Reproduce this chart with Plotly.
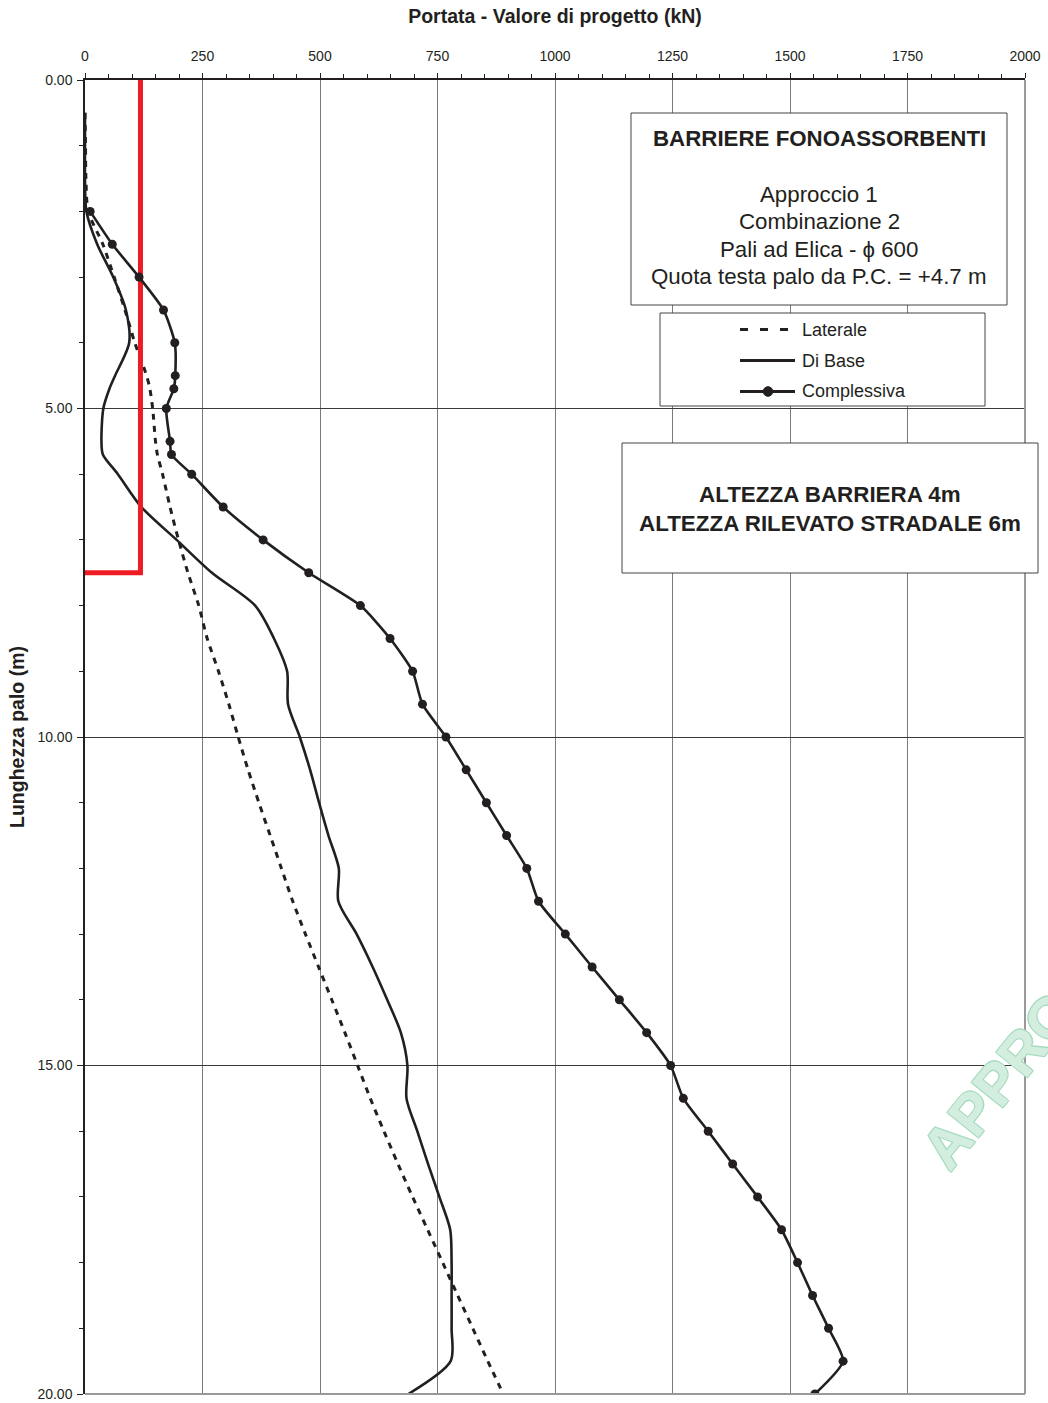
import plotly.graph_objects as go

# Depths along the pile (m) at which laterale and base capacities are tabulated
depth = [0.5, 1.0, 1.5, 2.0, 2.5, 3.0, 3.5, 4.0, 4.5, 4.7, 5.0, 5.5, 5.7,
         6.0, 6.5, 7.0, 7.5, 8.0, 8.5, 9.0, 9.5, 10.0, 10.5, 11.0, 11.5,
         12.0, 12.5, 13.0, 13.5, 14.0, 14.5, 15.0, 15.5, 16.0, 16.5, 17.0,
         17.5, 18.0, 18.5, 19.0, 19.5, 20.0]

# Shaft (lateral) design capacity, kN
laterale = [0, 1, 2, 7, 38, 62, 85, 106, 131, 138, 144, 150, 154,
            165, 181, 199, 219, 242, 260, 284, 306, 326, 347, 370, 394,
            418, 442, 469, 497, 525, 553, 580, 607, 636, 666, 697,
            729, 761, 793, 825, 857, 890]

# Base design capacity, kN
di_base = [0, 0, 0, 3, 26, 60, 87, 94, 64, 52, 39, 35, 38,
           70, 120, 195, 270, 362, 402, 430, 432, 457, 479, 498, 518,
           540, 539, 578, 612, 643, 672, 686, 684, 707, 730, 754,
           777, 780, 780, 780, 778, 688]

# Total design capacity, kN (tabulated from 2.0 m)
depth_tot = depth[3:]
complessiva = [11, 58, 115, 167, 191, 192, 189, 173, 181, 184,
               227, 294, 379, 476, 586, 649, 697, 718, 768, 811, 854,
               897, 940, 965, 1022, 1079, 1137, 1195, 1246, 1273, 1326,
               1378, 1431, 1482, 1516, 1548, 1582, 1613, 1553]

# Design load demand line (kN) down to its depth (m)
carico_x = [118, 118, 0]
carico_y = [0, 7.5, 7.5]

# Axis ticks
x_ticks = [0, 250, 500, 750, 1000, 1250, 1500, 1750, 2000]
y_ticks = [0, 5, 10, 15, 20]

# Text of the two boxes
info_lines = ["<b>BARRIERE FONOASSORBENTI</b>", "Approccio 1", "Combinazione 2",
              "Pali ad Elica - \u03d5 600", "Quota testa palo da P.C. = +4.7 m"]
geo_lines = ["<b>ALTEZZA BARRIERA 4m</b>", "<b>ALTEZZA RILEVATO STRADALE 6m</b>"]

INK = "#231f20"
FRAME = "#444444"
FONT = "Arial, Liberation Sans, sans-serif"

# Plot-area geometry in pixels (used to place boxes in paper coordinates)
W, H = 1048, 1403
L, R, T, B = 85, 1025, 80, 1394


def px(xp):
    return (xp - L) / (R - L)


def py(yp):
    return (B - yp) / (B - T)


fig = go.Figure()

fig.add_trace(go.Scatter(
    x=laterale, y=depth, mode="lines", name="Laterale",
    line=dict(color=INK, width=3, dash="6px,6px", shape="spline", smoothing=0.8),
))
fig.add_trace(go.Scatter(
    x=di_base, y=depth, mode="lines", name="Di Base",
    line=dict(color=INK, width=2.6, shape="spline", smoothing=0.8),
))
fig.add_trace(go.Scatter(
    x=carico_x, y=carico_y, mode="lines", name="Carico",
    line=dict(color="#ed1c24", width=5),
))
fig.add_trace(go.Scatter(
    x=complessiva, y=depth_tot, mode="lines+markers", name="Complessiva",
    line=dict(color=INK, width=2.6, shape="spline", smoothing=0.6),
    marker=dict(symbol="circle", size=9, color=INK),
))

shapes = [
    # right and bottom frame of the plot area
    dict(type="line", xref="paper", yref="paper", x0=1, x1=1, y0=0, y1=1,
         line=dict(color="#9a9a9a", width=2), layer="above"),
    dict(type="line", xref="paper", yref="paper", x0=0, x1=1, y0=0, y1=0,
         line=dict(color="#9a9a9a", width=2), layer="above"),
    # information box
    dict(type="rect", xref="paper", yref="paper",
         x0=px(631), x1=px(1007), y0=py(305), y1=py(113),
         line=dict(color=FRAME, width=1), fillcolor="white", layer="above"),
    # geometry box
    dict(type="rect", xref="paper", yref="paper",
         x0=px(622), x1=px(1038), y0=py(573), y1=py(443),
         line=dict(color=FRAME, width=1), fillcolor="white", layer="above"),
    # legend frame
    dict(type="rect", xref="paper", yref="paper",
         x0=px(660), x1=px(985), y0=py(406), y1=py(313),
         line=dict(color=FRAME, width=1), fillcolor="white", layer="above"),
]

# legend samples
leg_rows = [("Laterale", 329.5), ("Di Base", 360.5), ("Complessiva", 391.5)]
for name, yy in leg_rows:
    dash = "8px,12px" if name == "Laterale" else "solid"
    shapes.append(dict(type="line", xref="paper", yref="paper",
                       x0=px(740), x1=px(795), y0=py(yy), y1=py(yy),
                       line=dict(color=INK, width=3, dash=dash), layer="above"))
shapes.append(dict(type="circle", xref="paper", yref="paper",
                   x0=px(768 - 4.8), x1=px(768 + 4.8),
                   y0=py(391.5 + 4.8), y1=py(391.5 - 4.8),
                   line=dict(color=INK, width=1), fillcolor=INK, layer="above"))

annotations = []
for name, yy in leg_rows:
    annotations.append(dict(
        xref="paper", yref="paper", x=px(800), y=py(yy),
        xanchor="left", yanchor="middle", showarrow=False,
        text=name, font=dict(family=FONT, size=18, color=INK),
    ))

for txt, yy in zip(info_lines, [140, 195, 222.5, 250, 277.5]):
    annotations.append(dict(
        xref="paper", yref="paper", x=px(819), y=py(yy - 1),
        xanchor="center", yanchor="middle", showarrow=False,
        text=txt, font=dict(family=FONT, size=22.3, color=INK),
    ))

for txt, yy in zip(geo_lines, [495, 523]):
    annotations.append(dict(
        xref="paper", yref="paper", x=px(830), y=py(yy),
        xanchor="center", yanchor="middle", showarrow=False,
        text=txt, font=dict(family=FONT, size=22.4, color=INK),
    ))

# stamp
annotations.append(dict(
    xref="paper", yref="paper", x=px(1036), y=py(1033),
    xanchor="center", yanchor="middle", showarrow=False,
    text="<b>APPROVED</b>", textangle=-51,
    font=dict(family=FONT, size=58, color="#d3eedf",
              shadow="1px 1px 0 #a6dbbf, -1px -1px 0 #a6dbbf, 1px -1px 0 #a6dbbf, -1px 1px 0 #a6dbbf"),
))

fig.update_layout(
    width=W, height=H,
    margin=dict(l=L, r=W - R, t=T, b=H - B, autoexpand=False),
    paper_bgcolor="white", plot_bgcolor="white",
    showlegend=False,
    font=dict(family=FONT, color=INK),
    shapes=shapes, annotations=annotations,
)

fig.update_xaxes(
    side="top", range=[0, 2000], tickvals=x_ticks, automargin=False,
    ticks="outside", ticklen=5, tickcolor=INK, tickwidth=1,
    tickfont=dict(size=14, color=INK), ticklabelstandoff=7,
    showline=True, linecolor=INK, linewidth=1.5,
    showgrid=True, gridcolor="#7a7a7a", gridwidth=1, zeroline=False,
    minor=dict(dtick=50, ticks="outside", ticklen=4, tickcolor=INK, showgrid=False),
    title=dict(text="<b>Portata - Valore di progetto (kN)</b>",
               font=dict(size=19.5, color=INK), standoff=19),
)
fig.update_yaxes(
    range=[20, 0], tickvals=y_ticks, tickformat=".2f", automargin=False,
    ticks="outside", ticklen=6, tickcolor=INK, tickwidth=1,
    tickfont=dict(size=14, color=INK), ticklabelstandoff=2,
    showline=True, linecolor=INK, linewidth=1.5,
    showgrid=True, gridcolor="#3a3a3a", gridwidth=1, zeroline=False,
    minor=dict(dtick=1, ticks="outside", ticklen=4, tickcolor=INK, showgrid=False),
    title=dict(text="<b>Lunghezza palo (m)</b>",
               font=dict(size=19.5, color=INK), standoff=8),
)

fig.write_html("out.html")
